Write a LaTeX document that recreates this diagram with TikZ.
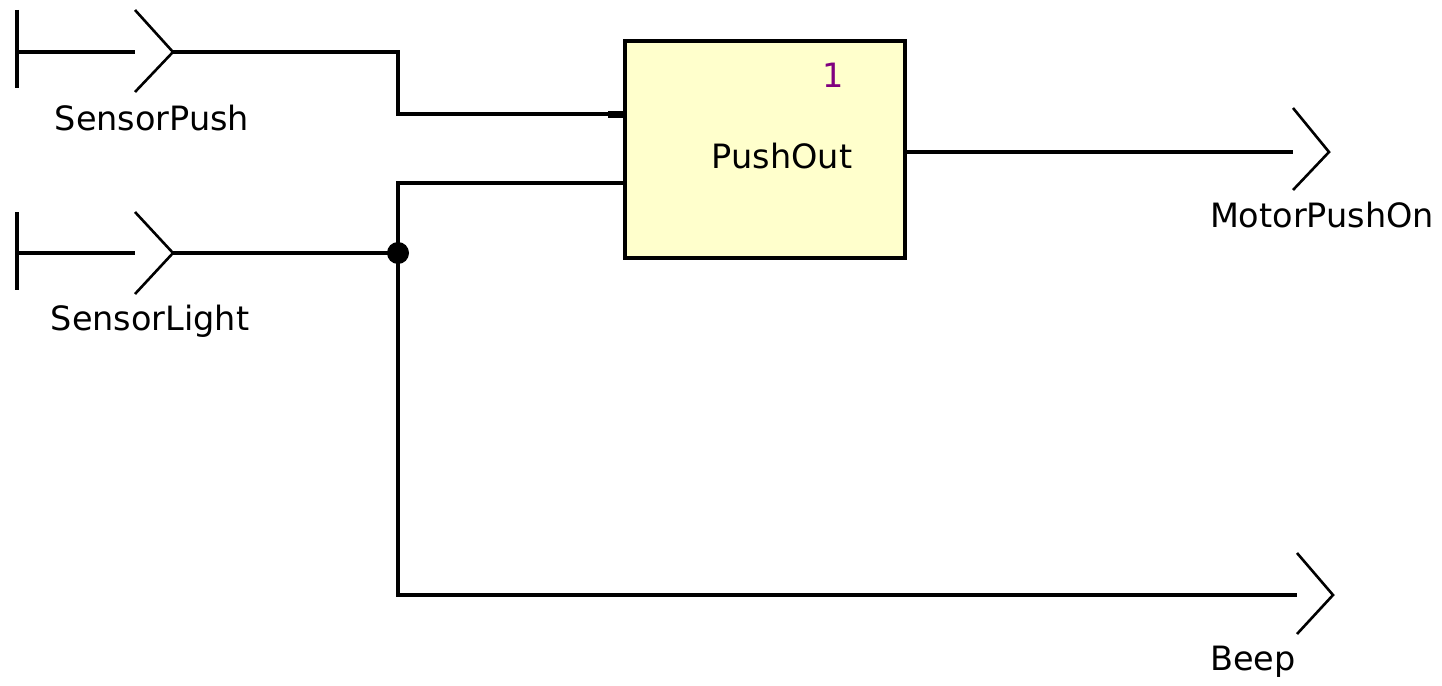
\documentclass[tikz,border=0pt]{standalone}
\usepackage{fontspec}
\setmainfont{DejaVu Sans}
\definecolor{boxfill}{HTML}{FFFFCC}
\definecolor{numcol}{HTML}{800080}
\begin{document}
\begin{tikzpicture}[x=1pt,y=-1pt,
  wire/.style={line width=3.8pt},
  chev/.style={line width=2.6pt},
  lbl/.style={font=\fontsize{33.5}{40}\selectfont, inner sep=0pt, anchor=base},
  blk/.style={draw, line width=4pt, fill=boxfill, minimum width=280pt, minimum height=217pt, inner sep=0pt}
]
\useasboundingbox (0,0) rectangle (1442,685);
% block
\node[blk] (po) at (765,149.5) {};
\node[lbl] (potext) at (782,168) {PushOut};
\node[lbl, text=numcol] (ponum) at (833,87) {1};
% input port SensorPush
\coordinate (sp0) at (17,52);
\coordinate (sp1) at (135,52);
\coordinate (sptip) at (173,52);
\draw[wire] (17,10) -- (17,88);
\draw[wire] (sp0) -- (sp1);
\draw[chev] (135,10) -- (sptip) -- (135,92);
\node[lbl] (sptext) at (152,130) {SensorPush};
% input port SensorLight
\coordinate (sl0) at (17,253);
\coordinate (sl1) at (135,253);
\coordinate (sltip) at (173,253);
\draw[wire] (17,212) -- (17,290);
\draw[wire] (sl0) -- (sl1);
\draw[chev] (135,212) -- (sltip) -- (135,294);
\node[lbl] (sltext) at (150,330) {SensorLight};
% junction
\coordinate (j) at (398,253);
\coordinate (in1) at (po.west |- 0,114);
\coordinate (in2) at (po.west |- 0,183);
% wires
\draw[wire] (sptip) -| (398,114) -- (in1);
\fill (608,110.5) rectangle (in1 |- 0,117.5);
\draw[wire] (sltip) -- (j);
\draw[wire] (in2) -- (398,183) -- (j);
% output MotorPushOn
\coordinate (out1) at (po.east |- 0,152);
\coordinate (mp) at (1293,152);
\coordinate (mptip) at (1329,152);
\draw[wire] (out1) -- (mp);
\draw[chev] (1293,108) -- (mptip) -- (1293,190);
\node[lbl] (mptext) at (1322,227) {MotorPushOn};
% output Beep
\coordinate (bp) at (1297,595);
\coordinate (bptip) at (1333,595);
\draw[wire] (j) |- (bp);
\draw[chev] (1297,553) -- (bptip) -- (1297,634);
\node[lbl] (bptext) at (1253,670) {Beep};
\fill (j) circle (11pt);
\end{tikzpicture}
\end{document}
